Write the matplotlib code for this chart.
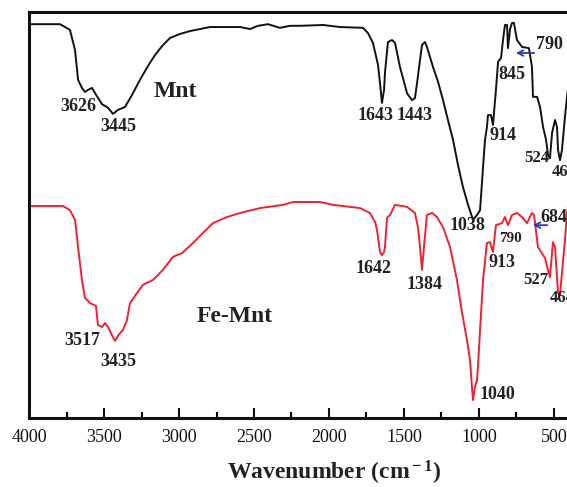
import matplotlib
matplotlib.use("Agg")
import matplotlib.pyplot as plt
from matplotlib.ticker import MultipleLocator

plt.rcParams["font.family"] = ["Liberation Serif", "DejaVu Serif"]
plt.rcParams["mathtext.fontset"] = "custom"
plt.rcParams["mathtext.rm"] = "Liberation Serif:bold"
plt.rcParams["mathtext.bf"] = "Liberation Serif:bold"
plt.rcParams["mathtext.it"] = "Liberation Serif:bold:italic"

# FTIR spectrum of Mnt (wavenumber in cm-1, transmittance in a.u.)
mnt_wn = [4000, 3793, 3727, 3693, 3673, 3647, 3627, 3607, 3580, 3553, 3513, 3473,
          3440, 3407, 3360, 3313, 3260, 3207, 3160, 3113, 3060, 2993, 2927, 2793,
          2593, 2527, 2473, 2407, 2327, 2260, 2193, 2040, 1927, 1773, 1740, 1707,
          1673, 1660, 1647, 1633, 1627, 1607, 1580, 1560, 1527, 1500, 1480, 1447,
          1427, 1413, 1393, 1380, 1360, 1347, 1307, 1273, 1240, 1207, 1173, 1140,
          1107, 1073, 1040, 1013, 993, 973, 960, 947, 940, 920, 907, 887, 873, 853,
          840, 827, 813, 807, 793, 780, 767, 747, 713, 667, 647, 640, 613, 593, 573,
          553, 540, 527, 513, 493, 480, 473, 460, 447, 427, 413, 400]
mnt_t = [97.0, 97.0, 95.6, 90.6, 83.3, 81.3, 80.3, 80.8, 81.3, 79.6, 77.3, 76.4,
         74.9, 75.9, 76.6, 79.6, 83.3, 86.7, 89.4, 91.6, 93.6, 94.6, 95.3, 96.3,
         96.3, 95.8, 96.6, 97.0, 96.1, 96.6, 96.6, 96.8, 96.3, 96.1, 94.8, 92.4,
         86.9, 82.5, 77.6, 80.8, 85.0, 92.6, 93.1, 92.4, 86.5, 82.8, 80.0, 78.3,
         78.8, 82.5, 88.2, 91.9, 92.6, 91.4, 86.5, 82.8, 78.3, 73.4, 68.5, 62.3,
         56.9, 52.5, 48.8, 50.0, 51.2, 61.8, 68.5, 71.7, 74.6, 74.6, 72.2, 80.8,
         87.7, 88.7, 93.1, 96.8, 96.8, 91.1, 95.8, 97.3, 97.3, 93.1, 91.4, 91.1,
         86.5, 79.1, 79.1, 76.6, 71.7, 68.5, 64.8, 64.0, 70.2, 73.4, 71.7, 66.0,
         63.5, 66.0, 74.1, 79.1, 83.3]

# FTIR spectrum of Fe-Mnt
fe_wn = [4000, 3773, 3727, 3693, 3673, 3647, 3627, 3593, 3553, 3547, 3540, 3513,
         3493, 3473, 3447, 3427, 3407, 3393, 3373, 3347, 3327, 3280, 3240, 3173,
         3107, 3040, 2980, 2907, 2840, 2773, 2680, 2593, 2460, 2307, 2240, 2060,
         1973, 1793, 1727, 1693, 1680, 1660, 1647, 1633, 1627, 1613, 1593, 1560,
         1480, 1427, 1407, 1393, 1380, 1367, 1347, 1313, 1280, 1240, 1193, 1147,
         1113, 1080, 1060, 1047, 1040, 1027, 1013, 1007, 993, 973, 947, 927, 907,
         887, 847, 827, 807, 780, 747, 713, 680, 647, 633, 607, 560, 540, 527, 507,
         493, 473, 460, 447, 427, 413, 400]
fe_t = [52.2, 52.2, 51.2, 48.8, 42.1, 34.0, 29.6, 28.3, 27.6, 25.1, 22.9, 22.4,
        23.4, 22.4, 20.4, 19.0, 20.2, 20.9, 21.7, 24.1, 28.3, 30.8, 32.8, 34.0,
        36.5, 39.7, 40.6, 43.1, 45.6, 48.0, 49.5, 50.5, 51.7, 52.5, 53.2, 53.2,
        52.5, 51.7, 50.5, 48.3, 46.3, 40.9, 40.1, 40.9, 42.1, 49.3, 50.0, 52.5,
        52.0, 50.5, 47.0, 42.1, 36.5, 42.1, 50.0, 50.5, 49.5, 47.0, 42.1, 34.0,
        25.9, 19.2, 14.3, 7.6, 4.4, 7.6, 9.4, 12.6, 21.7, 34.0, 43.1, 43.3, 40.9,
        47.5, 48.0, 49.5, 47.5, 50.0, 50.5, 49.5, 48.0, 50.5, 50.0, 42.1, 39.4,
        36.5, 34.7, 43.3, 42.1, 30.8, 30.3, 35.7, 43.8, 50.5, 53.7]

# Peak labels: (text, wavenumber, transmittance, horizontal alignment, size)
mnt_labels = [("3626", 3673, 76.8, "center", 13), ("3445", 3407, 71.7, "center", 13),
              ("1643", 1693, 74.4, "center", 13), ("1443", 1427, 74.4, "center", 13),
              ("1038", 1080, 47.5, "center", 13), ("914", 840, 69.5, "center", 13),
              ("845", 780, 84.5, "center", 13), ("790", 533, 92.1, "center", 13),
              ("524", 613, 64.0, "center", 12), ("462", 513, 60.6, "left", 12)]
fe_labels = [("3517", 3647, 19.0, "center", 13), ("3435", 3407, 14.0, "center", 13),
             ("1642", 1700, 36.7, "center", 13), ("1384", 1360, 33.0, "center", 13),
             ("1040", 880, 5.7, "center", 13), ("913", 847, 38.2, "center", 13),
             ("790", 793, 44.3, "center", 11), ("684", 593, 49.3, "left", 13),
             ("527", 620, 34.0, "center", 12), ("464", 527, 29.6, "left", 12)]

fig = plt.figure(figsize=(5.67, 4.87), dpi=100, facecolor="white")
ax = fig.add_axes([29 / 567, 1 - 418 / 487, (569 - 29) / 567, (418 - 12) / 487])

ax.plot(mnt_wn, mnt_t, color="#111111", lw=1.4)
ax.plot(fe_wn, fe_t, color="#ee2233", lw=1.4)

ax.set_xlim(4000, 400)
ax.set_ylim(0, 100)

for txt, x, y, ha, fs in mnt_labels + fe_labels:
    ax.text(x, y, txt, ha=ha, va="center", fontsize=fs, fontweight="bold",
            color="#222222")

ax.text(3027, 80.5, "Mnt", ha="center", va="center", fontsize=17,
        fontweight="bold", color="#222222")
ax.text(2627, 25.1, "Fe-Mnt", ha="center", va="center", fontsize=17,
        fontweight="bold", color="#222222")

arrow_style = dict(arrowstyle="->", color="#2a3cb0", lw=1.3)
ax.annotate("", xy=(773, 89.9), xytext=(613, 89.9), arrowprops=arrow_style)
ax.annotate("", xy=(660, 47.5), xytext=(527, 47.5), arrowprops=arrow_style)

for side in ("left", "bottom", "top", "right"):
    ax.spines[side].set_linewidth(2.2)
    ax.spines[side].set_color("#111111")

ax.set_yticks([])
ax.xaxis.set_major_locator(MultipleLocator(500))
ax.xaxis.set_minor_locator(MultipleLocator(250))
ax.tick_params(axis="x", which="major", direction="in", length=7, width=1.5,
               labelsize=13, pad=8, colors="#111111")
ax.tick_params(axis="x", which="minor", direction="in", length=4, width=1.5)
ax.set_xticks([4000, 3500, 3000, 2500, 2000, 1500, 1000, 500])

fig.text(334 / 567, 1 - 473 / 487, r"Wavenumber (cm$^{\rm -1}$)", ha="center",
         va="center", fontsize=17, fontweight="bold", color="#222222")

fig.savefig("out.png", dpi=100, facecolor="white")
